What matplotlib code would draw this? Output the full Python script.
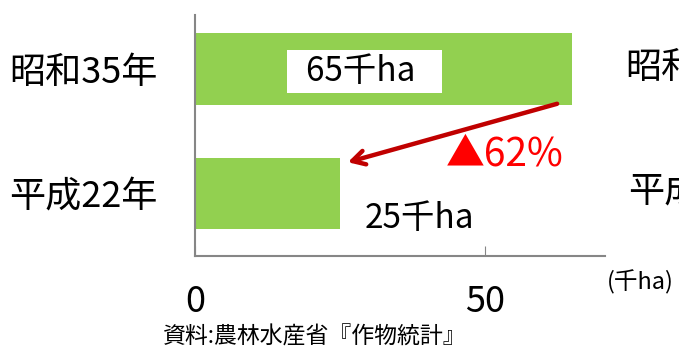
import matplotlib.pyplot as plt

plt.rcParams["font.family"] = ["Noto Sans CJK JP", "DejaVu Sans"]

# Data
categories = ["昭和35年", "平成22年"]
areas = [65, 25]  # 千ha
change_label = "▲62%"
x_ticks = [0, 50]
source_note = "資料:農林水産省『作物統計』"

bar_color = "#92D050"
axis_color = "#868686"

fig = plt.figure(figsize=(6.79, 3.51), dpi=100)
ax = fig.add_axes([195 / 679, 1 - 256 / 351, 410 / 679, 241 / 351])

y_pos = [1, 0]
ax.barh(y_pos, areas, height=0.575, color=bar_color)

ax.set_xlim(0, 70.7)
ax.set_ylim(-0.5, 1.43)

# Axis styling
for side in ["top", "right"]:
    ax.spines[side].set_visible(False)
for side in ["left", "bottom"]:
    ax.spines[side].set_color(axis_color)
    ax.spines[side].set_linewidth(1.5)

ax.set_yticks(y_pos)
ax.set_yticklabels(categories, fontsize=26)
ax.tick_params(axis="y", length=0, pad=27)

ax.set_xticks(x_ticks)
ax.set_xticklabels([str(t) for t in x_ticks], fontsize=26)
ax.tick_params(axis="x", direction="in", length=7, color=axis_color, pad=20)

# Value labels
ax.text(29.3, 0.98, "  65千ha   ", fontsize=24, ha="center", va="center",
        bbox=dict(boxstyle="square,pad=0.12", facecolor="white", edgecolor="none"))
ax.text(29.3, -0.2, "25千ha", fontsize=24, ha="left", va="center")

# Decline arrow
ax.annotate("", xy=(25.9, 0.245), xytext=(62.9, 0.725),
            arrowprops=dict(arrowstyle="->,head_length=0.9,head_width=0.5",
                            color="#C00000", lw=3.2))
ax.text(43.3, 0.31, change_label, fontsize=28, color="#FF0000",
        ha="left", va="center")

# Unit and source
fig.text(607 / 679, 1 - 282 / 351, "(千ha)", fontsize=17, ha="left", va="center")
fig.text(315 / 679, 1 - 337 / 351, source_note, fontsize=16.5, ha="center", va="center")

# Clipped labels from neighbouring chart
fig.text(625 / 679, 1 - 68 / 351, categories[0], fontsize=26, ha="left", va="center")
fig.text(628 / 679, 1 - 193 / 351, categories[1], fontsize=26, ha="left", va="center")

fig.savefig("out.png", dpi=100)
